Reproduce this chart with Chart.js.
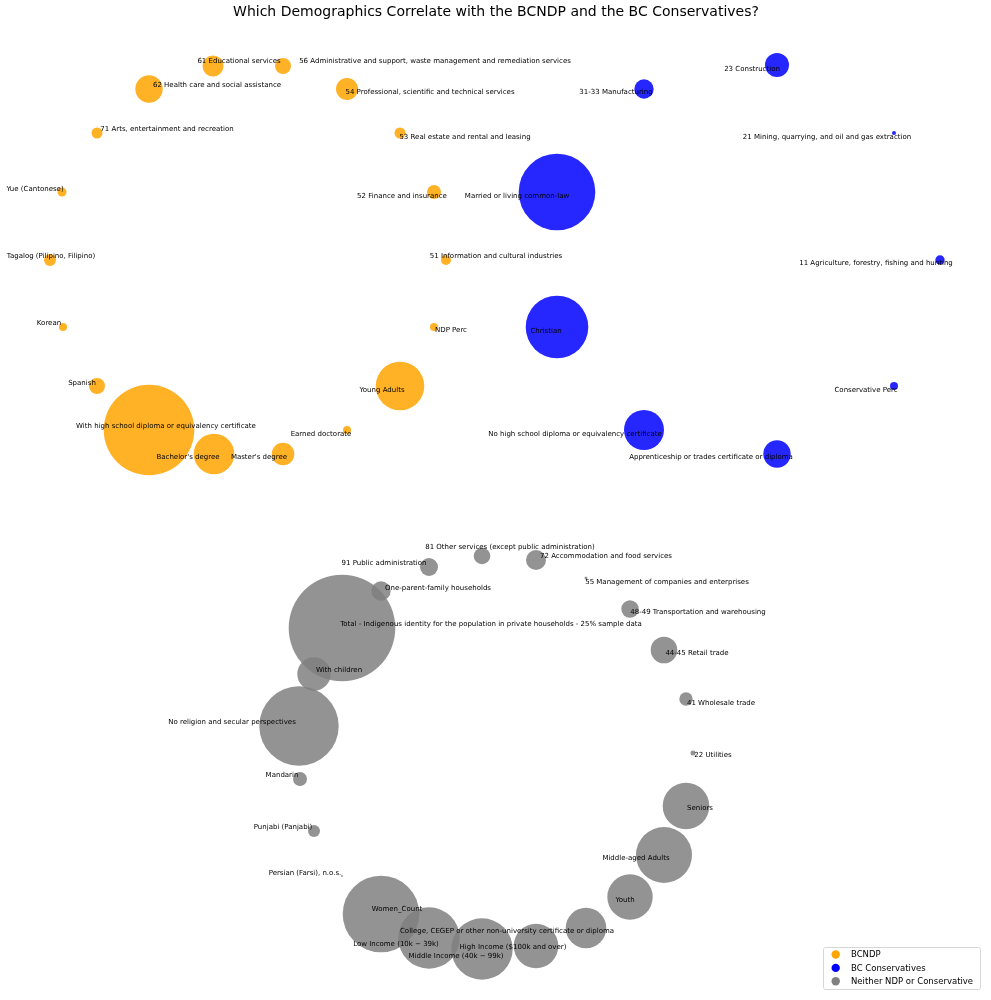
<!DOCTYPE html>
<html>
<head>
<meta charset="utf-8">
<script src="https://cdn.jsdelivr.net/npm/chart.js@4.4.1/dist/chart.umd.min.js"></script>
<style>
html,body{margin:0;padding:0;background:#fff;}
#wrap{width:991px;height:1000px;position:relative;}
</style>
</head>
<body>
<div id="wrap"><canvas id="c"></canvas></div>
<script>
// ---------- DATA ----------
const chartTitle = "Which Demographics Correlate with the BCNDP and the BC Conservatives?";
const seriesNames = ["BCNDP", "BC Conservatives", "Neither NDP or Conservative"];

// BCNDP nodes
const ndpLabels = ["61 Educational services","56 Administrative and support, waste management and remediation services","62 Health care and social assistance","54 Professional, scientific and technical services","71 Arts, entertainment and recreation","53 Real estate and rental and leasing","Yue (Cantonese)","52 Finance and insurance","Tagalog (Pilipino, Filipino)","51 Information and cultural industries","Korean","NDP Perc","Spanish","Young Adults","With high school diploma or equivalency certificate","Earned doctorate","Bachelor's degree","Master's degree"];
const ndpX = [213,283,149,347,97,400,62,434,50,446,63,434,97,400,149,347,214,283];
const ndpY = [66,66,89,89,133,133,192,192,260,260,327,327,386,386,430,430,454,454];
const ndpSize = [10.5,8,13.7,11,5.5,5.5,4.5,7,6,5,4,4,8,24.3,45.3,4,20.3,11.3];
const ndpLabelX = [239,435,217,430,167,465,35,402,51,496,49,451,82,382,166,321,188,259];
const ndpLabelY = [61,61,85,92,129,137,189,196,256,256,323,330,383,390,426,434,457,457];

// BC Conservative nodes
const conLabels = ["23 Construction","31-33 Manufacturing","21 Mining, quarrying, and oil and gas extraction","Married or living common-law","11 Agriculture, forestry, fishing and hunting","Christian","Conservative Perc","No high school diploma or equivalency certificate","Apprenticeship or trades certificate or diploma"];
const conX = [777,644,894,557,940,557,894,644,777];
const conY = [65,89,133,192,260,327,386,430,454];
const conSize = [12,9.7,2,38.3,4.7,31.3,4,20,13.7];
const conLabelX = [752,616,827,517,876,546,866,575,711];
const conLabelY = [69,92,137,196,263,331,390,434,457];

// Neither nodes
const othLabels = ["81 Other services (except public administration)","72 Accommodation and food services","91 Public administration","55 Management of companies and enterprises","One-parent-family households","48-49 Transportation and warehousing","Total - Indigenous identity for the population in private households - 25% sample data","44-45 Retail trade","With children","41 Wholesale trade","No religion and secular perspectives","22 Utilities","Mandarin","Seniors","Punjabi (Panjabi)","Middle-aged Adults","Persian (Farsi), n.o.s.","Women_Count","Youth","Low Income (10k \u2212 39k)","Middle Income (40k \u2212 99k)","High Income ($100k and over)","College, CEGEP or other non-university certificate or diploma"];
const othX = [482,536,429,586,381,630,342,664,314,686,299,693,300,686,314,664,342,381,630,429,482,536,586];
const othY = [556,560,567,578,591,609,628,650,674,699,726,753,779,806,831,855,876,914,897,938,949,946,928];
const othSize = [8.3,10,9,1.5,9.7,8.7,53.3,13.3,16.7,6.7,39.7,2.5,7,23.3,6,28,1,38.3,22.7,30.7,30.7,22.3,20.3];
const othLabelX = [510,606,384,667,438,698,491,697,339,721,232,713,282,700,283,636,305,397,625,396,456,513,507];
const othLabelY = [547,556,563,582,588,612,624,653,670,703,722,755,775,808,827,858,873,909,900,944,956,947,931];

// ---------- BUILD ----------
function pts(xs, ys, rs, lx, ly, labels){
  return xs.map((x,i)=>({x:x, y:ys[i], r:rs[i], lx:lx[i], ly:ly[i], label:labels[i]}));
}
const datasets = [
  {label:seriesNames[0], data:pts(ndpX,ndpY,ndpSize,ndpLabelX,ndpLabelY,ndpLabels), backgroundColor:'rgba(255,165,0,0.85)', legendColor:'#ffa500'},
  {label:seriesNames[1], data:pts(conX,conY,conSize,conLabelX,conLabelY,conLabels), backgroundColor:'rgba(0,0,255,0.85)', legendColor:'#0000ff'},
  {label:seriesNames[2], data:pts(othX,othY,othSize,othLabelX,othLabelY,othLabels), backgroundColor:'rgba(128,128,128,0.85)', legendColor:'#808080'}
];
datasets.forEach(d=>{d.borderWidth=0; d.hoverBorderWidth=0; d.hoverRadius=0; d.clip=false;});

const FONT = '"DejaVu Sans", sans-serif';

const labelPlugin = {
  id:'nodeLabels',
  afterDatasetsDraw(chart){
    const ctx = chart.ctx, xs = chart.scales.x, ys = chart.scales.y;
    ctx.save();
    ctx.font = '7px ' + FONT;
    ctx.fillStyle = '#000';
    ctx.textAlign = 'center';
    ctx.textBaseline = 'middle';
    chart.data.datasets.forEach(ds=>{
      ds.data.forEach(p=>{
        ctx.fillText(p.label, xs.getPixelForValue(p.lx), ys.getPixelForValue(p.ly));
      });
    });
    ctx.restore();
  },
  afterDraw(chart){
    const ctx = chart.ctx;
    ctx.save();
    // title
    ctx.font = '14px ' + FONT;
    ctx.fillStyle = '#000';
    ctx.textAlign = 'center';
    ctx.textBaseline = 'middle';
    ctx.fillText(chartTitle, 496, 12);
    // legend
    const bx = 823.5, by = 947.5, bw = 157, bh = 42;
    ctx.fillStyle = 'rgba(255,255,255,0.8)';
    ctx.strokeStyle = '#d6d6d6';
    ctx.lineWidth = 1;
    ctx.beginPath();
    if (ctx.roundRect) ctx.roundRect(bx, by, bw, bh, 2); else ctx.rect(bx,by,bw,bh);
    ctx.fill(); ctx.stroke();
    ctx.font = '8.5px ' + FONT;
    ctx.textAlign = 'left';
    chart.data.datasets.forEach((ds,i)=>{
      const yy = 954.5 + i*13.4;
      ctx.fillStyle = ds.legendColor;
      ctx.beginPath(); ctx.arc(835.7, yy, 4.2, 0, Math.PI*2); ctx.fill();
      ctx.fillStyle = '#000';
      ctx.fillText(ds.label, 851, yy+0.5);
    });
    ctx.restore();
  }
};

new Chart(document.getElementById('c'), {
  type:'bubble',
  data:{datasets:datasets},
  options:{
    responsive:true,
    maintainAspectRatio:false,
    animation:false,
    layout:{padding:0, autoPadding:false},
    scales:{
      x:{display:false, min:0, max:991},
      y:{display:false, min:0, max:1000, reverse:true}
    },
    plugins:{
      legend:{display:false},
      title:{display:false},
      tooltip:{enabled:false}
    },
    events:[]
  },
  plugins:[labelPlugin]
});
</script>
</body>
</html>
